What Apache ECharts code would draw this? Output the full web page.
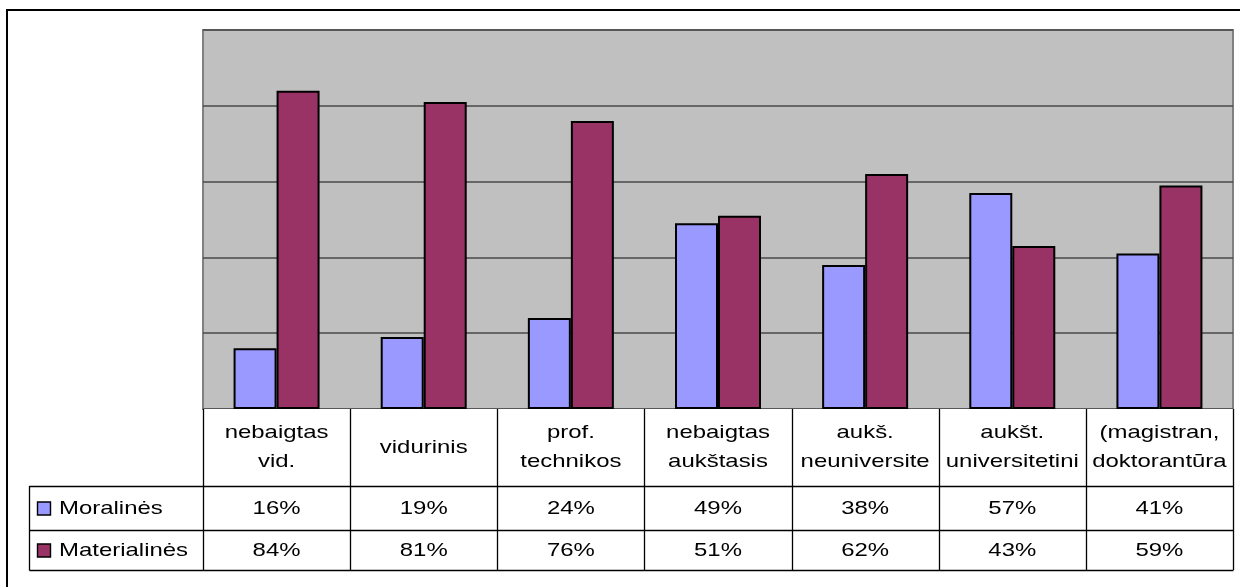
<!DOCTYPE html>
<html>
<head>
<meta charset="utf-8">
<style>
  html, body { margin: 0; padding: 0; background: #fff; }
  #chart { width: 1240px; height: 587px; }
</style>
<script src="https://cdn.jsdelivr.net/npm/echarts@6/dist/echarts.min.js"></script>
</head>
<body>
<div id="chart"></div>
<script>
// Education levels (categories) and the two answer shares, in percent
const categories = [
  'nebaigtas\nvid.',
  'vidurinis',
  'prof.\ntechnikos',
  'nebaigtas\naukštasis',
  'aukš.\nneuniversite',
  'aukšt.\nuniversitetini',
  '(magistran,\ndoktorantūra'
];
const seriesNames = ['Moralinės', 'Materialinės'];
const moralines = [16, 19, 24, 49, 38, 57, 41];
const materialines = [84, 81, 76, 51, 62, 43, 59];
const seriesColors = ['#9999FF', '#993366'];

// Plot-area layout in pixels
const W = 1240, H = 587;
const plotLeft = 203, plotRight = 1233, plotTop = 30, plotBottom = 409;
const headerBottom = 486, row1Bottom = 530, row2Bottom = 570;
const tableLeft = 29;
const FONT = '"Liberation Sans", Arial, sans-serif';
const STRETCH = 1.26;

const chart = echarts.init(document.getElementById('chart'), null, { renderer: 'canvas' });

function fmt(v) { return v + '%'; }

function buildTable() {
  const g = [];
  const n = categories.length;
  const cw = (plotRight - plotLeft) / n;
  const line = (x1, y1, x2, y2) => ({
    type: 'line', silent: true, z: 10,
    shape: { x1, y1, x2, y2 },
    style: { stroke: '#000', lineWidth: 1.3 }
  });
  const label = (text, x, y, align) => ({
    type: 'text', silent: true, z: 11, x, y, scaleX: STRETCH,
    style: {
      text, fill: '#000', font: '19px ' + FONT,
      textAlign: align || 'center', textVerticalAlign: 'middle', lineHeight: 29
    }
  });

  // white table background
  g.push({ type: 'rect', silent: true, z: 9,
    shape: { x: plotLeft, y: plotBottom, width: plotRight - plotLeft, height: row2Bottom - plotBottom },
    style: { fill: '#fff' } });

  // vertical separators between category columns
  for (let i = 0; i <= n; i++) {
    const x = Math.round(plotLeft + i * cw) + 0.5;
    g.push(line(x, plotBottom, x, row2Bottom));
  }
  // horizontal rules of the value rows
  [headerBottom, row1Bottom, row2Bottom].forEach(y => {
    g.push(line(tableLeft + 0.5, y + 0.5, plotRight + 0.5, y + 0.5));
  });
  g.push(line(tableLeft + 0.5, headerBottom, tableLeft + 0.5, row2Bottom + 0.5));

  // category headers and values
  const rows = [moralines, materialines];
  const rowMid = [(headerBottom + row1Bottom) / 2, (row1Bottom + row2Bottom) / 2];
  categories.forEach((c, i) => {
    const cx = plotLeft + (i + 0.5) * cw;
    g.push(label(c, cx, (plotBottom + headerBottom) / 2));
    rows.forEach((r, k) => g.push(label(fmt(r[i]), cx, rowMid[k] + 0.5)));
  });

  // legend keys with series names
  seriesNames.forEach((name, k) => {
    g.push({ type: 'rect', silent: true, z: 11,
      shape: { x: 37.5, y: rowMid[k] - 6, width: 13, height: 13 },
      style: { fill: seriesColors[k], stroke: '#000', lineWidth: 1.4 } });
    g.push(label(name, 59, rowMid[k] + 0.5, 'left'));
  });

  // outer frame
  g.push({ type: 'rect', silent: true, z: 12,
    shape: { x: 7, y: 10, width: W, height: H },
    style: { fill: 'none', stroke: '#000', lineWidth: 2 } });
  return g;
}

chart.setOption({
  animation: false,
  backgroundColor: '#fff',
  grid: {
    left: plotLeft, right: W - plotRight, top: plotTop, bottom: H - plotBottom,
    show: true, backgroundColor: '#C0C0C0', borderColor: '#808080', borderWidth: 2
  },
  xAxis: {
    type: 'category', data: categories,
    axisLine: { show: false }, axisTick: { show: false }, axisLabel: { show: false }
  },
  yAxis: {
    type: 'value', min: 0, max: 100, interval: 20,
    axisLine: { show: false }, axisTick: { show: false }, axisLabel: { show: false },
    splitLine: { lineStyle: { color: '#4a4a4a', width: 1.6 } }
  },
  series: [
    { name: seriesNames[0], type: 'bar', data: moralines, barWidth: 43, barGap: '0%',
      itemStyle: { color: seriesColors[0], borderColor: '#000', borderWidth: 2 } },
    { name: seriesNames[1], type: 'bar', data: materialines, barWidth: 43, barGap: '0%',
      itemStyle: { color: seriesColors[1], borderColor: '#000', borderWidth: 2 } }
  ],
  graphic: buildTable()
});
</script>
</body>
</html>
